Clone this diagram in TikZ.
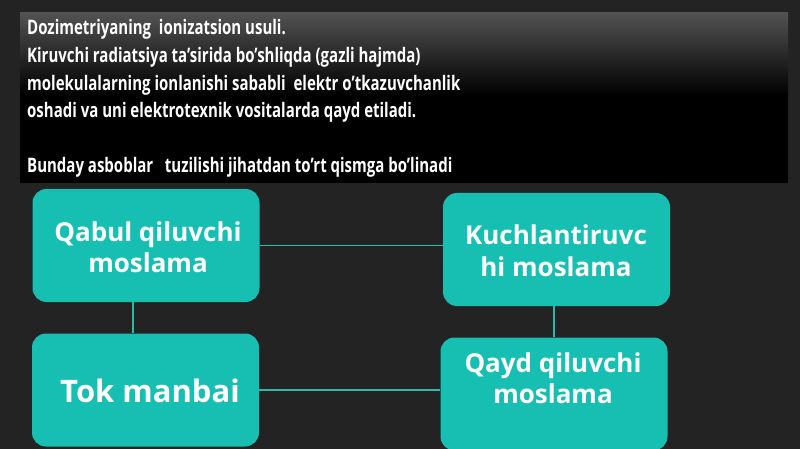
\documentclass[tikz,border=0pt]{standalone}
\usepackage{fontspec}
\setmainfont{Open Sans}
\newfontfamily\bannerfont{Open Sans}[FakeStretch=0.75]
\usetikzlibrary{calc}
\definecolor{bgc}{HTML}{232323}
\definecolor{teal1}{HTML}{16BFB2}
\definecolor{tealline}{HTML}{2FB8A8}
\tikzset{
  box/.style={fill=teal1, rounded corners=14pt, minimum width=227pt, minimum height=113pt, inner sep=0pt},
  conn/.style={draw=tealline, line width=1.4pt},
  btxt/.style={text=white, font=\fontsize{20}{22}\selectfont\bannerfont\bfseries, anchor=base west, inner sep=0pt},
  ltxt/.style={text=white, font=\fontsize{26}{30}\selectfont\bfseries, anchor=base, inner sep=0pt},
}
\begin{document}
\begin{tikzpicture}[x=1pt,y=-1pt]
\fill[bgc] (0,0) rectangle (800,449);
\useasboundingbox (0,0) rectangle (800,449);
\fill[black] (20,13) rectangle (788,183);
\shade[top color=black!68, bottom color=black] (20,13) rectangle (788,95);
\node[btxt] (l1) at (27,35) {Dozimetriyaning\ \ ionizatsion usuli.};
\node[btxt] (l2) at (27,63) {Kiruvchi radiatsiya ta’sirida bo’shliqda (gazli hajmda)};
\node[btxt] (l3) at (27,91) {molekulalarning ionlanishi sababli\ \ elektr o’tkazuvchanlik};
\node[btxt] (l4) at (27,118) {oshadi va uni elektrotexnik vositalarda qayd etiladi.};
\node[btxt] (l5) at (27,173) {Bunday asboblar\ \ \ tuzilishi jihatdan to’rt qismga bo’linadi};
\node[box] (b1) at (146,245.5) {};
\node[box] (b2) at (556.5,249.5) {};
\node[box] (b3) at (145.5,390) {};
\node[box] (b4) at (554,394) {};
\draw[conn] (b1.east) -- (b1.east -| b2.west);
\draw[conn] ($(b1.south)+(-13,0)$) -- ($(b3.north)+(-12.5,0)$);
\draw[conn] (b3.east) -- (b3.east -| b4.west);
\draw[conn] ($(b2.south)+(-2.5,0)$) -- ($(b4.north)+(0,0)$);
\node[ltxt] (t1a) at (148,241) {Qabul qiluvchi};
\node[ltxt] (t1b) at (148,272) {moslama};
\node[ltxt] (t2a) at (556,244) {Kuchlantiruvc};
\node[ltxt] (t2b) at (556,276) {hi moslama};
\node[ltxt, font=\fontsize{31}{34}\selectfont\bfseries] (t3) at (150,402) {Tok manbai};
\node[ltxt] (t4a) at (553,372) {Qayd qiluvchi};
\node[ltxt] (t4b) at (553,403) {moslama};
\end{tikzpicture}
\end{document}
